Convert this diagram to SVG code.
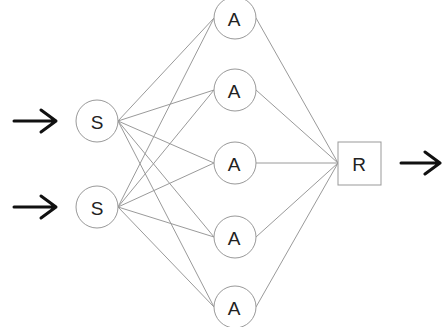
<svg xmlns="http://www.w3.org/2000/svg" width="442" height="327" viewBox="0 0 442 327">
<style>
.n{fill:#fff;stroke:#999;stroke-width:1}
.t{font-family:"Liberation Sans",Arial,sans-serif;font-size:19px;fill:#222;text-anchor:middle;dominant-baseline:central}
.c line{stroke:#9a9a9a;stroke-width:1}
.ar{stroke:#111;stroke-width:3;fill:none;stroke-linecap:round;stroke-linejoin:round}
</style>
<rect width="442" height="327" fill="#fff"/>
<g class="c" id="connectors">
<line x1="118" y1="121" x2="214" y2="18"/>
<line x1="118" y1="121" x2="214" y2="90"/>
<line x1="118" y1="121" x2="214" y2="163"/>
<line x1="118" y1="121" x2="214" y2="237"/>
<line x1="118" y1="121" x2="214" y2="307"/>
<line x1="118" y1="207" x2="214" y2="18"/>
<line x1="118" y1="207" x2="214" y2="90"/>
<line x1="118" y1="207" x2="214" y2="163"/>
<line x1="118" y1="207" x2="214" y2="237"/>
<line x1="118" y1="207" x2="214" y2="307"/>
<line x1="256" y1="18" x2="338" y2="163"/>
<line x1="256" y1="90" x2="338" y2="163"/>
<line x1="256" y1="163" x2="338" y2="163"/>
<line x1="256" y1="237" x2="338" y2="163"/>
<line x1="256" y1="307" x2="338" y2="163"/>
<path class="ar" d="M14 121H55M41 110L56 121L41 132"/>
<path class="ar" d="M14 207H55M41 196L56 207L41 218"/>
<path class="ar" d="M401 163H439M425 152L440 163L425 174"/>
</g>
<g id="s1"><circle class="n" cx="97" cy="121" r="21"/><text class="t" x="97" y="122">S</text></g>
<g id="s2"><circle class="n" cx="97" cy="207" r="21"/><text class="t" x="97" y="208">S</text></g>
<g id="a1"><circle class="n" cx="235" cy="18" r="21"/><text class="t" x="234" y="19">A</text></g>
<g id="a2"><circle class="n" cx="235" cy="90" r="21"/><text class="t" x="234" y="91">A</text></g>
<g id="a3"><circle class="n" cx="235" cy="163" r="21"/><text class="t" x="234" y="164">A</text></g>
<g id="a4"><circle class="n" cx="235" cy="237" r="21"/><text class="t" x="234" y="238">A</text></g>
<g id="a5"><circle class="n" cx="235" cy="307" r="21"/><text class="t" x="234" y="308">A</text></g>
<g id="r"><rect class="n" x="338" y="142" width="43" height="43"/><text class="t" x="359" y="164">R</text></g>
</svg>
